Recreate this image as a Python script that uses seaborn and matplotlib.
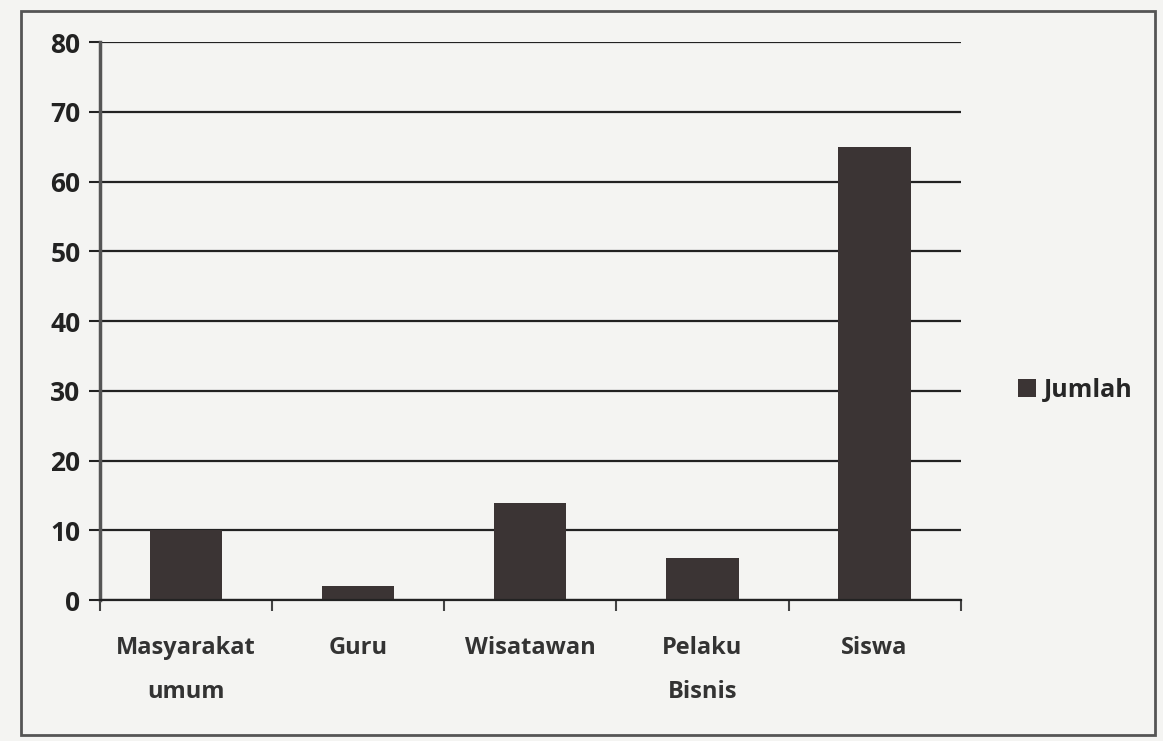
import numpy as np
import matplotlib.pyplot as plt
import seaborn as sns
import pandas as pd
from matplotlib.patches import Rectangle

categories = ['Masyarakat\numum', 'Guru', 'Wisatawan', 'Pelaku\nBisnis', 'Siswa']
jumlah = [10, 2, 14, 6, 65]
yticks = [0, 10, 20, 30, 40, 50, 60, 70, 80]

df = pd.DataFrame({'Kategori': categories, 'Jumlah': jumlah})

sns.set_theme(style="white")
plt.rcParams['font.family'] = ['Open Sans', 'DejaVu Sans']

fig = plt.figure(figsize=(11.63, 7.41), dpi=100)
fig.patch.set_facecolor('#f4f4f2')
ax = fig.add_axes([0.086, 0.19, 0.74, 0.753])
ax.set_facecolor('#f4f4f2')

sns.barplot(data=df, x='Kategori', y='Jumlah', color='#3b3434', width=0.42,
            saturation=1, ax=ax, label='Jumlah', linewidth=0, edgecolor='none')

ax.set_ylim(0, 80)
ax.set_xlim(-0.5, 4.5)
ax.set_yticks(yticks)
ax.yaxis.grid(True, color='#222222', linewidth=1.6)
ax.set_axisbelow(True)
for s in ['top', 'right']:
    ax.spines[s].set_visible(False)
ax.spines['left'].set_color('#555555')
ax.spines['left'].set_linewidth(2.5)
ax.spines['bottom'].set_color('#222222')
ax.spines['bottom'].set_linewidth(1.6)
ax.tick_params(axis='y', left=True, direction='out', length=8, width=1.5, colors='#222222',
               labelsize=19, pad=6)
ax.set_xticks(np.arange(-0.5, 5, 1), minor=True)
ax.tick_params(axis='x', which='minor', bottom=True, direction='out', length=8, width=1.5,
               colors='#444444')
ax.tick_params(axis='x', which='major', length=0, labelsize=17, pad=26, colors='#333333')
for t in ax.get_yticklabels() + ax.get_xticklabels():
    t.set_fontweight('bold')
    t.set_linespacing(2.1)
ax.set_xlabel('')
ax.set_ylabel('')

leg = ax.legend(loc='center left', bbox_to_anchor=(1.04, 0.376), frameon=False,
                handlelength=0.75, handleheight=0.75, handletextpad=0.3,
                prop={'size': 18, 'weight': 'bold'})

fig.patches.append(Rectangle((0.018, 0.008), 0.975, 0.977, transform=fig.transFigure,
                             fill=False, edgecolor='#555555', linewidth=2))

plt.savefig('out.png', dpi=100, facecolor=fig.get_facecolor())
